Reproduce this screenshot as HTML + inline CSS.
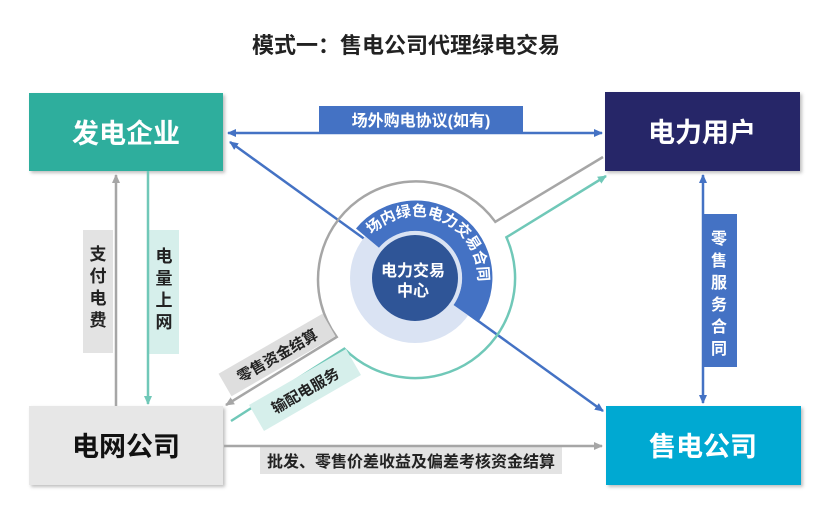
<!DOCTYPE html>
<html><head><meta charset="utf-8"><style>
html,body{margin:0;padding:0;background:#fff;}
svg{display:block;font-family:"Liberation Sans","Noto Sans CJK SC",sans-serif;}
</style></head><body>
<svg width="837" height="515" viewBox="0 0 837 515" xmlns="http://www.w3.org/2000/svg">
<defs>
<marker id="ab" markerWidth="10" markerHeight="10" refX="8" refY="5" orient="auto-start-reverse" markerUnits="userSpaceOnUse"><path d="M0,1 L9,5 L0,9 z" fill="#4472c4"/></marker>
<marker id="ag" markerWidth="10" markerHeight="10" refX="8" refY="5" orient="auto-start-reverse" markerUnits="userSpaceOnUse"><path d="M0,1 L9,5 L0,9 z" fill="#a6a6a6"/></marker>
<marker id="at" markerWidth="10" markerHeight="10" refX="8" refY="5" orient="auto-start-reverse" markerUnits="userSpaceOnUse"><path d="M0,1 L9,5 L0,9 z" fill="#70c8b8"/></marker>
<filter id="sh" x="-5%" y="-5%" width="115%" height="120%"><feDropShadow dx="2" dy="2" stdDeviation="1.5" flood-color="#000" flood-opacity="0.25"/></filter>
<path id="tp" d="M363.9,244.6 A62,62 0 0 1 476,294"/>
</defs>

<text x="406" y="53" font-size="22" font-weight="bold" text-anchor="middle" fill="#222">模式一：售电公司代理绿电交易</text>

<rect x="29" y="93" width="194" height="78" fill="#2fae9d" filter="url(#sh)"/>
<text x="126" y="143" font-size="27" font-weight="bold" fill="#fff" text-anchor="middle">发电企业</text>
<rect x="605" y="92" width="195" height="79" fill="#262768" filter="url(#sh)"/>
<text x="702" y="142" font-size="27" font-weight="bold" fill="#fff" text-anchor="middle">电力用户</text>
<rect x="29" y="406" width="194" height="79" fill="#e7e7e7" filter="url(#sh)"/>
<text x="126" y="456" font-size="27" font-weight="bold" fill="#111" text-anchor="middle">电网公司</text>
<rect x="606" y="406" width="195" height="79" fill="#00a9d2" filter="url(#sh)"/>
<text x="703" y="456" font-size="27" font-weight="bold" fill="#fff" text-anchor="middle">售电公司</text>

<rect x="319" y="106" width="204" height="27" fill="#4472c4"/>
<text x="421" y="126" font-size="16" font-weight="bold" fill="#fff" text-anchor="middle">场外购电协议(如有)</text>
<line x1="228" y1="133" x2="602" y2="133" stroke="#4472c4" stroke-width="2.5" marker-start="url(#ab)" marker-end="url(#ab)"/>

<rect x="83" y="230" width="30" height="123" fill="#e3e3e3"/>
<text font-size="17" font-weight="bold" fill="#222" text-anchor="middle"><tspan x="98" y="260">支</tspan><tspan x="98" y="282">付</tspan><tspan x="98" y="304">电</tspan><tspan x="98" y="326">费</tspan></text>
<line x1="116" y1="406" x2="116" y2="175" stroke="#a6a6a6" stroke-width="2.5" marker-end="url(#ag)"/>
<rect x="148" y="230" width="31" height="124" fill="#d6efeb"/>
<text font-size="17" font-weight="bold" fill="#222" text-anchor="middle"><tspan x="164" y="262">电</tspan><tspan x="164" y="284">量</tspan><tspan x="164" y="306">上</tspan><tspan x="164" y="328">网</tspan></text>
<line x1="148" y1="171" x2="148" y2="404" stroke="#70c8b8" stroke-width="2.5" marker-end="url(#at)"/>

<rect x="703" y="214" width="34" height="153" fill="#4472c4"/>
<text font-size="16" font-weight="bold" fill="#fff" text-anchor="middle"><tspan x="719" y="244">零</tspan><tspan x="719" y="266">售</tspan><tspan x="719" y="288">服</tspan><tspan x="719" y="310">务</tspan><tspan x="719" y="332">合</tspan><tspan x="719" y="354">同</tspan></text>
<line x1="703" y1="175" x2="703" y2="403" stroke="#4472c4" stroke-width="2.5" marker-start="url(#ab)" marker-end="url(#ab)"/>

<rect x="260" y="447" width="302" height="27" fill="#e3e3e3"/>
<text x="411" y="467" font-size="16" font-weight="bold" fill="#222" text-anchor="middle">批发、零售价差收益及偏差考核资金结算</text>
<line x1="224" y1="446" x2="602" y2="446" stroke="#a6a6a6" stroke-width="2.5" marker-end="url(#ag)"/>

<line x1="230" y1="142" x2="603" y2="411" stroke="#4472c4" stroke-width="2.5" marker-start="url(#ab)" marker-end="url(#ab)"/>

<path d="M603,157 L495.3,221.8 A98,98 0 0 0 336.7,337 L226,405" fill="none" stroke="#a6a6a6" stroke-width="2.5" marker-end="url(#ag)"/>
<path d="M231,421 L344.3,348.7 A100,100 0 0 0 506.4,237.3 L606,176" fill="none" stroke="#70c8b8" stroke-width="2.5" marker-end="url(#at)"/>

<g transform="translate(277,355) rotate(-30)">
<rect x="-60" y="-13" width="120" height="26" fill="#dedede"/>
<text x="0" y="6" font-size="15" font-weight="bold" fill="#222" text-anchor="middle">零售资金结算</text>
</g>
<g transform="translate(305,390) rotate(-30)">
<rect x="-56" y="-15" width="112" height="30" fill="#d6efeb"/>
<text x="0" y="6" font-size="15" font-weight="bold" fill="#222" text-anchor="middle">输配电服务</text>
</g>

<circle cx="415" cy="278" r="65" fill="#dae3f3"/>
<path d="M356,228.5 A77,77 0 0 1 478.1,322.2 L453.5,305 A47,47 0 0 0 379,247.8 Z" fill="#4472c4"/>
<circle cx="415" cy="278" r="47" fill="#dae3f3"/>
<circle cx="415" cy="278" r="43" fill="#2f5597"/>
<text font-size="16" font-weight="bold" fill="#fff" text-anchor="middle"><tspan x="413" y="276">电力交易</tspan><tspan x="413" y="296">中心</tspan></text>
<text font-size="15" font-weight="bold" fill="#fff" text-anchor="middle"><textPath href="#tp" startOffset="50%">场内绿色电力交易合同</textPath></text>
</svg>
</body></html>
